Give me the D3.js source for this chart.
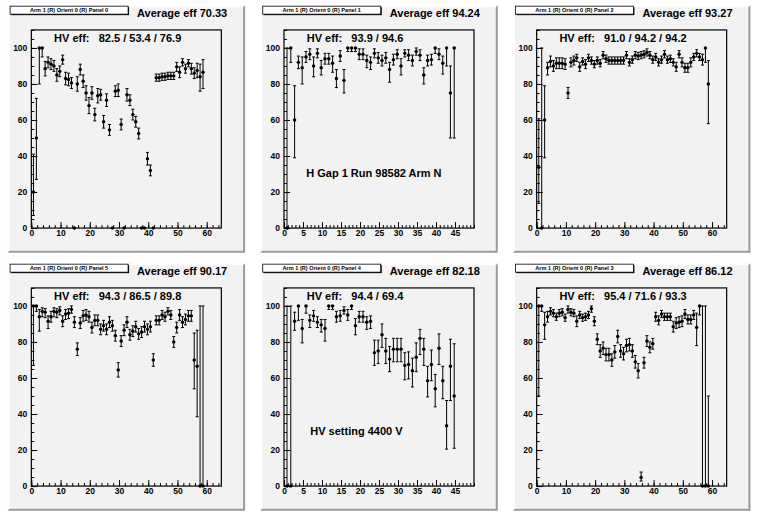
<!DOCTYPE html>
<html><head><meta charset="utf-8">
<script src="https://cdn.jsdelivr.net/npm/d3@7"></script>
<style>
html,body{margin:0;padding:0;background:#fff;}
svg{display:block;font-family:"Liberation Sans",Arial,Helvetica,sans-serif;font-weight:bold;}
</style></head><body>
<svg id="c" width="758" height="516"></svg>
<script>
// ---------- data ----------
const titles = ["Arm 1 (R) Orient 0 (R) Panel 0","Arm 1 (R) Orient 0 (R) Panel 1","Arm 1 (R) Orient 0 (R) Panel 2",
                "Arm 1 (R) Orient 0 (R) Panel 5","Arm 1 (R) Orient 0 (R) Panel 4","Arm 1 (R) Orient 0 (R) Panel 3"];
const avgEff = ["70.33","94.24","93.27","90.17","82.18","86.12"];
const hvEff = ["82.5 / 53.4 / 76.9","93.9 / 94.6","91.0 / 94.2 / 94.2","94.3 / 86.5 / 89.8","94.4 / 69.4","95.4 / 71.6 / 93.3"];
const xMaxes = [65,50,65,65,50,65];
const yTicks = [0,20,40,60,80,100];
const notes = ["", "H Gap 1 Run 98582 Arm N", "", "", "HV setting 4400 V", ""];

// panel 0 (bins 1..59)
const eff0 = [20,50,100,100,88.5,92,91,90,85,87,93.5,83,82.5,80.5,0,80,88,81.5,75,68,75,63,73.5,74,59,71,54.5,0,76,76.5,57.5,0,74,71,63,59,52.5,0,0,38.5,32,0,83.5,83.5,84,84,84.5,84.5,84.5,89.5,86.5,92,88.5,91.5,88.5,86,87.5,84,86.5];
const lo0  = [13,23,20,5,4,3,3,3,3.5,3,2.5,3.5,3.5,3,0,4,3,3.5,4,4.5,3.5,3.5,4,3,3.5,3.5,3,0,3,3.5,3,0,3.5,3,3,3,3,0,0,3.5,3,0,2,2,2,2,2,2,2,2.5,3,2,2.5,2,3,3,4,8,9];
const hi0  = [21,22,0,0,4,3,3,3,3.5,3,2.5,3.5,3.5,3,0,4,3,3.5,4,4.5,3.5,3.5,4,3,3.5,3.5,3,0,3,3.5,3,0,3.5,3,3,3,3,0,0,3.5,3,0,2,2,2,2,2,2,2,2.5,3,2,2.5,2,3,3,4,7,7];
// panel 1 (bins 1..45)
const eff1 = [0,100,60,92,89,95,96.5,90,97,89,94,94,91.5,83,95.5,82,100,100,100,96.5,96.5,93,92,97,94.5,93,94.5,88,93.5,96.5,90,97,96,93,98,96,85,93,93.5,100,96.5,91.5,100,75,100];
const lo1  = [0,8,21,3.5,9,3,3,6,2.5,4,3,3,5,5,3,7,2,2,2,3,3,4,4,2.5,3,3,3,7,3,2.5,5,2,3,3,2,3,5,3,3,3,3,6,10,25,50];
const hi1  = [100,0,19,3.5,6,3,3,5,2.5,4,3,3,4,5,3,6,0,0,0,3,3,3,3,2.5,3,3,3,4,3,2.5,4,2,3,3,2,3,4,3,3,0,3,4,0,15,0];
// panel 2 (bins 1..59)
const eff2 = [33.7,0,60,89,92.5,90,91.5,91.5,91.5,91,75,92,93,94.5,89.5,92.5,91,94.5,93,91,93,91.5,96,94,93,93,93,93,93,93,96,92,93.5,96,95.5,96,96.5,97.5,96,93.5,95,92,93.5,96.5,93.5,94,92,89.5,96.5,92,89,89,92,95,97,95,93.5,100,80];
const lo2  = [20,0,21,4,3,3,3,3,3,3,3,2.5,2.5,2,2.5,2,2.5,2,2,2,2,2,2,2,2,2,2,2,2,2,2,2,2,2,2,2,2,2,2,2,2,2,2,2,2,2,2,2.5,2,2.5,2.5,2.5,2.5,2,2,2,3,8,22];
const hi2  = [27,100,19,3,3,3,3,3,3,3,3,2.5,2.5,2,2.5,2,2.5,2,2,2,2,2,2,2,2,2,2,2,2,2,2,2,2,2,2,2,2,2,2,2,2,2,2,2,2,2,2,2.5,2,2.5,2.5,2.5,2.5,2,2,2,3,0,13];
// panel 3 = "Panel 5" (bins 1..59)
const eff3 = [100,100,94,97,96.5,91.5,94,97,96.5,97.5,91.5,95.5,96,98,91,76,90.5,94.5,95,94,88,92,92,87,89,87,91,89,83.5,64.5,80.5,86.5,91,84,86,88.5,84.5,85.5,88.5,87,88.5,70,92,92,95,94,97,95,80,88,95,91,92.5,94.5,94.5,70,66.5,0,0];
const lo3  = [33,3,8,3,3,4,3,3,3,2.5,3,3,3,2,3,3.5,3,3,3,3,3,3,3,3,3,3,3,3,3,4,3,3,3,3,3,3,3,3,3,3,3,3.5,2.5,2.5,2.5,2.5,2,2.5,3,3,3,3,3,3,3,16,28,0,0];
const hi3  = [0,0,4,2,2,3,3,2,2,2,3,2.5,2.5,2,3,3.5,3,3,3,3,3,3,3,3,3,3,3,3,3,4,3,3,3,3,3,3,3,3,3,3,3,3.5,2.5,2.5,2.5,2.5,2,2.5,3,3,3,3,3,3,3,15,20,100,100];
// panel 4 (bins 1..45)
const eff4 = [0,0,91.5,100,87.5,100,92,94.5,91,89.5,87.5,100,100,94,94.5,97.5,95,100,89,94,94,91,91.5,74,75,84,75,70.5,76,76,76,67,67.5,64,71.5,82,76,58.5,67.5,54,76.5,58.5,33.5,66.5,50];
const lo4  = [0,0,5,8,8,4,4,3,3,4,7,2,2,3,3,2,3,2,5,3,3,4,4,7,7,7,7,7,7,7,7,8,8,9,8,9,9,9,9,10,9,10,13,19,29];
const hi4  = [100,100,5,0,5,0,3,3,3,3,5,0,0,3,3,2,3,0,4,3,3,3,3,7,6,6,7,7,6,6,6,7,7,7,8,5,6,8,8,8,8,8,14,15,29];
// panel 5 = "Panel 3" (bins 1..59)
const eff5 = [100,100,89.5,94,97,96,94,96,96.5,93.5,98,96.5,96,91.5,95,93.5,94,95,98.5,91.5,81.5,75,76.5,73,73,70,74.5,83,75,73.5,78,78.5,75,69,64,4.8,68.5,80.5,77,79,94,92,95.5,94,94,94,88.5,90.5,91,91.5,95.5,92.5,92.5,95,88,100,0,0,0];
const lo5  = [50,3,8,3,2,2,2,2,2,2,2,2,2,3,2,2,2,2,2,2.5,3,3.5,3.5,3.5,3.5,3.5,3.5,3.5,3.5,3.5,3.5,3.5,3.5,3.5,4,2,3,3,3,3,2.5,2.5,2,2,2,2,3,3,3,3,2.5,2.5,2.5,2.5,10,5,0,0,0];
const hi5  = [0,0,7,3,2,2,2,2,2,2,2,2,2,3,2,2,2,2,1.5,2.5,3,3.5,3.5,3.5,3.5,3.5,3.5,3.5,3.5,3.5,3.5,3.5,3.5,3.5,4,3,3,3,3,3,2.5,2.5,2,2,2,2,3,3,3,3,2.5,2.5,2.5,2.5,8,0,100,100,50];

const panels = [[eff0,lo0,hi0],[eff1,lo1,hi1],[eff2,lo2,hi2],[eff3,lo3,hi3],[eff4,lo4,hi4],[eff5,lo5,hi5]];

// ---------- drawing ----------
const W = 758, H = 516;
const svg = d3.select("#c");
const padFill = "#f2f2f2", dark = "#9a9a9a";

panels.forEach((pd, k) => {
  const c = k % 3, r = Math.floor(k / 3);
  const x1 = (c/3 + 0.01)*W, x2 = ((c+1)/3 - 0.01)*W;
  const y1 = (r*0.5 + 0.01)*H, y2 = ((r+1)*0.5 - 0.01)*H;
  const pw = x2-x1, ph = y2-y1;
  const g = svg.append("g");
  g.append("rect").attr("x",x1).attr("y",y1).attr("width",pw).attr("height",ph).attr("fill",padFill);
  const b = 2;
  g.append("path").attr("fill","#ffffff")
    .attr("d",`M${x1},${y1}H${x2}L${x2-b},${y1+b}H${x1+b}V${y2-b}L${x1},${y2}Z`);
  g.append("path").attr("fill",dark)
    .attr("d",`M${x2},${y2}H${x1}L${x1+b},${y2-b}H${x2-b}V${y1+b}L${x2},${y1}Z`);

  const fx1 = x1+0.1*pw, fx2 = x2-0.1*pw, fy1 = y1+0.1*ph, fy2 = y2-0.1*ph;
  const xMax = xMaxes[k];
  const xs = d3.scaleLinear().domain([0,xMax]).range([fx1,fx2]);
  const ys = d3.scaleLinear().domain([0,110]).range([fy2,fy1]);

  const majorStep = xMax === 65 ? 10 : 5, minorStep = xMax === 65 ? 2 : 1;
  const xMajor = d3.range(0, xMax, majorStep);
  const xMinor = d3.range(0, xMax+0.001, minorStep);
  const yMinor = d3.range(0, 110.001, 5);

  const axFont = "8.5px";
  const gx = g.append("g").attr("transform",`translate(0,${fy2})`);
  gx.call(d3.axisBottom(xs).tickValues(xMinor).tickSize(-3).tickFormat(""));
  const gx2 = g.append("g").attr("transform",`translate(0,${fy2})`);
  gx2.call(d3.axisBottom(xs).tickValues(xMajor).tickSize(-6).tickPadding(2).tickFormat(d3.format("d")));
  const gy = g.append("g").attr("transform",`translate(${fx1},0)`);
  gy.call(d3.axisLeft(ys).tickValues(yMinor).tickSize(-3).tickFormat(""));
  const gy2 = g.append("g").attr("transform",`translate(${fx1},0)`);
  gy2.call(d3.axisLeft(ys).tickValues(yTicks).tickSize(-6).tickPadding(4).tickFormat(d3.format("d")));
  g.selectAll(".domain").remove();
  g.selectAll(".tick line").attr("stroke","#000").attr("stroke-width",1);
  g.selectAll(".tick text").attr("font-size",axFont).attr("font-family","'Liberation Sans',Arial,sans-serif").attr("font-weight","bold").attr("fill","#000");

  g.append("rect").attr("x",fx1).attr("y",fy1).attr("width",fx2-fx1).attr("height",fy2-fy1)
    .attr("fill","none").attr("stroke","#000").attr("stroke-width",1.2);

  const [eff, lo, hi] = pd;
  const pts = eff.map((v,i)=>({x:i+1, v, lo: v-lo[i], hi: v+hi[i]}));
  const dg = g.append("g");
  pts.forEach(p => {
    const px = xs(p.x) - 0.8;
    if (p.hi !== p.lo) {
      dg.append("line").attr("x1",px).attr("x2",px).attr("y1",ys(p.lo)).attr("y2",ys(p.hi)).attr("stroke","#000").attr("stroke-width",1);
      [p.lo,p.hi].forEach(e => {
        if (e !== p.v) dg.append("line").attr("x1",px-1.5).attr("x2",px+1.5).attr("y1",ys(e)).attr("y2",ys(e)).attr("stroke","#000").attr("stroke-width",1);
      });
    }
    dg.append("line").attr("x1",px-1.4).attr("x2",px+1.4).attr("y1",ys(p.v)).attr("y2",ys(p.v)).attr("stroke","#000").attr("stroke-width",1);
    dg.append("circle").attr("cx",px).attr("cy",ys(p.v)).attr("r",1.7).attr("fill","#000");
  });

  const tbx = x1+2.5, tby = y1+1, tbw = 118, tbh = 8;
  g.append("rect").attr("x",tbx+1).attr("y",tby+1).attr("width",tbw).attr("height",tbh).attr("fill","#000");
  g.append("rect").attr("x",tbx).attr("y",tby).attr("width",tbw).attr("height",tbh).attr("fill","#fff").attr("stroke","#000").attr("stroke-width",0.8);
  g.append("text").attr("x",tbx+tbw/2).attr("y",tby+6).attr("text-anchor","middle").attr("font-size","5.6px").attr("fill","#000").text(titles[k]);

  g.append("text").attr("x",x1+129.5).attr("y",y1+11.7).attr("font-size","11px").attr("fill","#000").text("Average eff " + avgEff[k]);
  g.append("text").attr("x",x1+46.5).attr("y",y1+36.7).attr("font-size","11px").attr("fill","#000")
    .attr("xml:space","preserve").style("white-space","pre").text("HV eff:   " + hvEff[k]);
  if (notes[k]) {
    g.append("text").attr("x",x1+(k===1?46:50)).attr("y",y1+172.3).attr("font-size","11px").attr("fill","#000").text(notes[k]);
  }
});
</script>
</body></html>
